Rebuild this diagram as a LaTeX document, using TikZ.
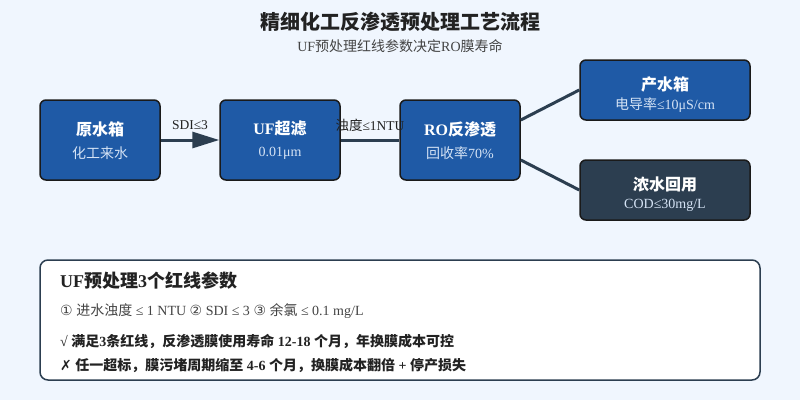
\documentclass[tikz,border=0pt]{standalone}
\usepackage{fontspec}
\setmainfont{Liberation Serif}
\newfontfamily\cjk{Noto Sans CJK SC}
\newfontfamily\sym{DejaVu Sans}
\usetikzlibrary{arrows.meta}
\definecolor{bg}{HTML}{F0F6FE}
\definecolor{boxblue}{HTML}{1F5AA6}
\definecolor{boxdark}{HTML}{2C3E50}
\definecolor{edge}{HTML}{1A1A1A}
\definecolor{conn}{HTML}{2C3E50}
\definecolor{subtxt}{HTML}{D5E3F5}
\definecolor{titletxt}{HTML}{222222}
\definecolor{graytxt}{HTML}{444444}
\newcommand{\zh}[1]{{\cjk #1}}
\tikzset{
  procbox/.style={draw=edge, line width=1.5pt, rounded corners=6pt, fill=boxblue,
    minimum width=120pt, minimum height=80pt, inner sep=0pt},
  outbox/.style={draw=edge, line width=1.5pt, rounded corners=6pt, fill=boxblue,
    minimum width=170pt, minimum height=60pt, inner sep=0pt},
  conline/.style={draw=conn, line width=3pt},
  lab/.style={font=\fontsize{13.5}{15}\selectfont, text=titletxt, inner sep=0pt},
  btitle/.style={font=\fontsize{16}{18}\selectfont\bfseries, text=white, inner sep=0pt},
  bsub/.style={font=\fontsize{14}{16}\selectfont, text=subtxt, inner sep=0pt},
  note/.style={anchor=west, inner sep=0pt, text=titletxt}
}
\begin{document}
\begin{tikzpicture}[x=1pt,y=-1pt]
\useasboundingbox (0,0) rectangle (800,400);
\fill[bg] (0,0) rectangle (800,400);
% title
\node[font=\fontsize{20}{24}\selectfont\bfseries, text=titletxt] (title) at (400,22) {\zh{精细化工反渗透预处理工艺流程}};
\node[font=\fontsize{14}{16}\selectfont, text=graytxt] (subtitle) at (400,46) {UF\zh{预处理红线参数决定}RO\zh{膜寿命}};
% boxes
\node[procbox] (raw) at (100,140) {};
\node[procbox] (uf) at (280,140) {};
\node[procbox] (ro) at (460,140) {};
\node[outbox] (prod) at (665,90) {};
\node[outbox, fill=boxdark] (conc) at (665,190) {};
% box texts
\node[btitle] (rawT) at (100,129) {\zh{原水箱}};
\node[bsub] (rawS) at (100,153) {\zh{化工来水}};
\node[btitle] (ufT) at (280,129) {UF\zh{超滤}};
\node[bsub] (ufS) at (280,153) {0.01μm};
\node[btitle] (roT) at (460,129) {RO\zh{反渗透}};
\node[bsub] (roS) at (460,153) {\zh{回收率}70\%};
\node[btitle] (prodT) at (665,84) {\zh{产水箱}};
\node[bsub] (prodS) at (665,105) {\zh{电导率}≤10μS/cm};
\node[btitle] (concT) at (665,184) {\zh{浓水回用}};
\node[bsub] (concS) at (665,205) {COD≤30mg/L};
% connectors
\draw[conline, -{Triangle[length=27pt,width=16pt]}] (raw.east) -- (uf.west);
\draw[conline] (uf.east) -- (ro.west);
\draw[conline] ([yshift=20pt]ro.east) -- ([yshift=0pt]prod.west);
\draw[conline] ([yshift=-20pt]ro.east) -- (conc.west);
% labels
\node[lab] (l1) at (190,125) {SDI≤3};
\node[lab] (l2) at (370,125) {\zh{浊度}≤1NTU};
% bottom panel
\draw[draw=conn, line width=1.5pt, rounded corners=8pt, fill=white] (40,260) rectangle (760,380);
\node[note, font=\fontsize{18}{20}\selectfont\bfseries] (n1) at (60,281) {UF\zh{预处理}3\zh{个红线参数}};
\node[note, font=\fontsize{14}{16}\selectfont, text=graytxt] (n2) at (60,311) {{\sym ①} \zh{进水浊度} ≤ 1 NTU {\sym ②} SDI ≤ 3 {\sym ③} \zh{余氯} ≤ 0.1 mg/L};
\node[note, font=\fontsize{14}{16}\selectfont\bfseries] (n3) at (60,341) {√ \zh{满足}3\zh{条红线，反渗透膜使用寿命} 12-18 \zh{个月，年换膜成本可控}};
\node[note, font=\fontsize{14}{16}\selectfont\bfseries] (n4) at (60,365) {{\sym ✗} \zh{任一超标，膜污堵周期缩至} 4-6 \zh{个月，换膜成本翻倍} + \zh{停产损失}};
\end{tikzpicture}
\end{document}
